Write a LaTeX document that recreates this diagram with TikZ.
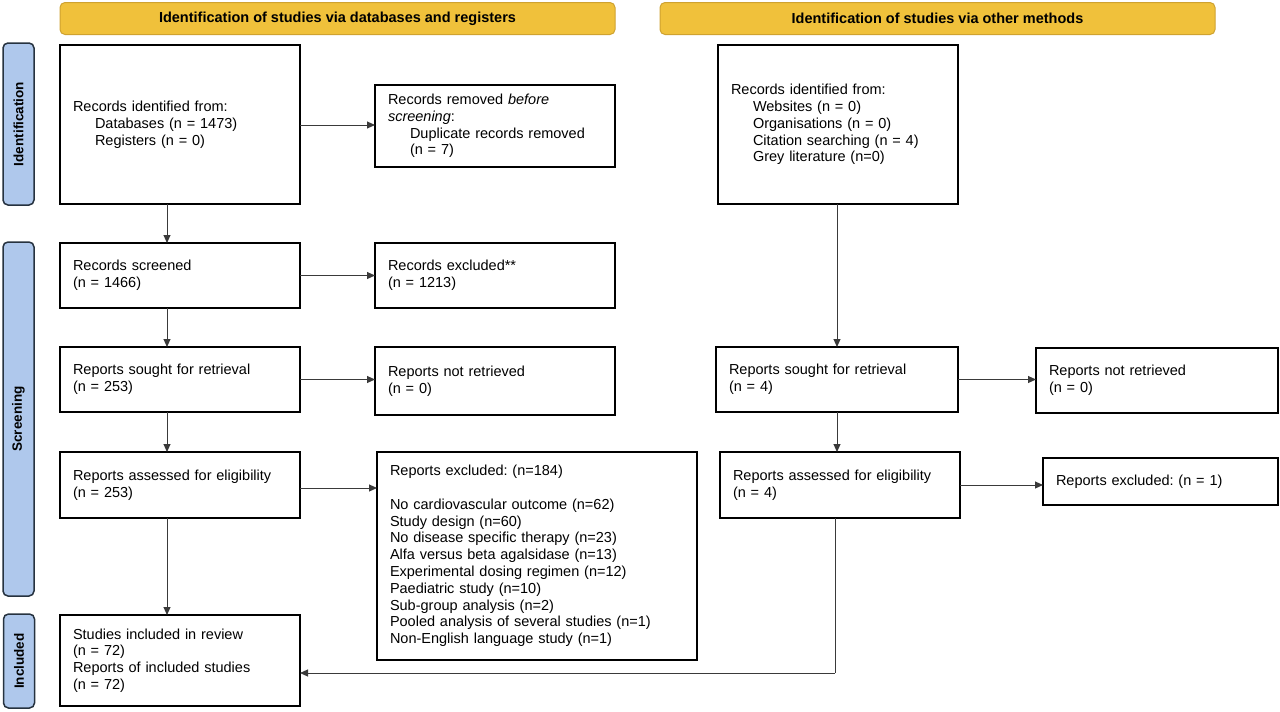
\documentclass[tikz,border=0pt]{standalone}
\usepackage{fontspec}
\setmainfont{Liberation Sans}
\usetikzlibrary{arrows.meta,calc}
\definecolor{hdrfill}{HTML}{F0C13B}
\definecolor{hdrdraw}{HTML}{CFA230}
\definecolor{sidefill}{HTML}{AFC8EC}
\definecolor{sidedraw}{HTML}{26323F}
\definecolor{arrcol}{HTML}{3A3A3A}
\newcommand{\fs}{\fontsize{14.5}{16.8}\selectfont}
\newcommand{\ind}{\hspace*{22pt}}
\frenchspacing
\begin{document}
\begin{tikzpicture}[x=1pt,y=-1pt,
  box/.style={draw=black,line width=1.3pt,rectangle,inner xsep=13pt,inner ysep=0pt,outer sep=0pt,align=left,font=\fs},
  hdr/.style={draw=hdrdraw,fill=hdrfill,line width=1pt,rounded corners=5pt,minimum width=555pt,minimum height=32pt,inner sep=0pt,font=\fontsize{14.5}{16}\selectfont\bfseries},
  side/.style={draw=sidedraw,fill=sidefill,line width=1.5pt,rounded corners=5pt,minimum width=31pt,inner sep=0pt,font=\fontsize{13.5}{15}\selectfont\bfseries},
  arr/.style={draw=arrcol,line width=1pt,-{Triangle[length=8pt,width=7pt]}},
  ln/.style={draw=arrcol,line width=1pt}]
\useasboundingbox (0,0) rectangle (1280,712);

% headers
\node[hdr] (h1) at (337.5,18.5) {Identification of studies via databases and registers};
\node[hdr] (h2) at (937.5,18.5) {Identification of studies via other methods};

% side labels
\node[side,minimum height=162pt] (s1) at (18.5,124) {\rotatebox{90}{Identification}};
\node[side,minimum height=354pt] (s2) at (18.5,419) {\rotatebox{90}{Screening}};
\node[side,minimum height=94pt] (s3) at (19,661) {\rotatebox{90}{Included}};

% left column
\node[box,text width=214pt,minimum height=159pt] (b1) at (180,124.5)
  {Records identified from:\\\ind Databases (n = 1473)\\\ind Registers (n = 0)};
\node[box,text width=214pt,minimum height=82pt] (rem) at (495,126)
  {Records removed \emph{before}\\\emph{screening}:\\\ind Duplicate records removed\\\ind (n = 7)};
\node[box,text width=214pt,minimum height=65pt] (scr) at (180,275.5)
  {Records screened\\(n = 1466)};
\node[box,text width=214pt,minimum height=65pt] (exc) at (495,275.5)
  {Records excluded**\\(n = 1213)};
\node[box,text width=214pt,minimum height=65pt] (soL) at (180,379.5)
  {Reports sought for retrieval\\(n = 253)};
\node[box,text width=214pt,minimum height=68pt] (nrL) at (495,381)
  {Reports not retrieved\\(n = 0)};
\node[box,text width=214pt,minimum height=66pt] (asL) at (180,485)
  {Reports assessed for eligibility\\(n = 253)};
\node[box,text width=294pt,minimum height=208pt] (ex184) at (537,556)
  {Reports excluded: (n=184)\\[16.8pt]
   No cardiovascular outcome (n=62)\\
   Study design (n=60)\\
   No disease specific therapy (n=23)\\
   Alfa versus beta agalsidase (n=13)\\
   Experimental dosing regimen (n=12)\\
   Paediatric study (n=10)\\
   Sub-group analysis (n=2)\\
   Pooled analysis of several studies (n=1)\\
   Non-English language study (n=1)};
\node[box,text width=214pt,minimum height=91pt] (inc) at (180,660.5)
  {Studies included in review\\(n = 72)\\Reports of included studies\\(n = 72)};

% right column
\node[box,text width=214pt,minimum height=159pt] (oid) at (838,124.5)
  {Records identified from:\\\ind Websites (n = 0)\\\ind Organisations (n = 0)\\\ind Citation searching (n = 4)\\\ind Grey literature (n=0)};
\node[box,text width=216pt,minimum height=65pt] (soR) at (837,379.5)
  {Reports sought for retrieval\\(n = 4)};
\node[box,text width=216pt,minimum height=65pt] (nrR) at (1157,380.5)
  {Reports not retrieved\\(n = 0)};
\node[box,text width=214pt,minimum height=66pt] (asR) at (840,485)
  {Reports assessed for eligibility\\(n = 4)};
\node[box,text width=209pt,minimum height=47pt] (exR) at (1160.5,481.5)
  {Reports excluded: (n = 1)};

% helper coordinates
\coordinate (xL) at (167,0);
\coordinate (xR) at (837,0);
\coordinate (turn) at (835,673);

% connectors left
\draw[arr] (b1.east |- 0,125) -- (rem.west |- 0,125);
\draw[arr] (scr.east) -- (exc.west);
\draw[arr] (soL.east) -- (soL.east -| nrL.west);
\draw[arr] (asL.east |- 0,488) -- (ex184.west |- 0,488);
\draw[arr] (b1.south -| xL) -- (scr.north -| xL);
\draw[arr] (scr.south -| xL) -- (soL.north -| xL);
\draw[arr] (soL.south -| xL) -- (asL.north -| xL);
\draw[arr] (asL.south -| xL) -- (inc.north -| xL);

% connectors right
\draw[arr] (oid.south -| xR) -- (soR.north -| xR);
\draw[arr] (soR.east) -- (soR.east -| nrR.west);
\draw[arr] (soR.south -| xR) -- (asR.north -| xR);
\draw[arr] (asR.east) -- (asR.east -| exR.west);
\draw[ln] (asR.south -| turn) -- (turn);
\draw[arr] (turn) -- (inc.east |- turn);
\end{tikzpicture}
\end{document}
